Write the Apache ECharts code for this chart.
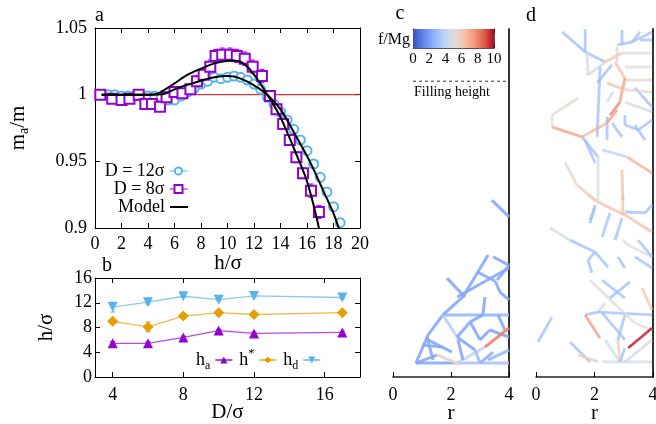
<!DOCTYPE html>
<html>
<head>
<meta charset="utf-8">
<script src="https://cdn.jsdelivr.net/npm/echarts@6/dist/echarts.min.js"></script>
<style>
  html, body { margin: 0; padding: 0; background: #fff; }
  #chart { width: 656px; height: 424px; }
</style>
</head>
<body>
<div id="chart"></div>
<script>
var FONT = '"Liberation Serif", "Times New Roman", serif';
var purple = '#9400d3', sky = '#56b4e9', orange = '#e69f00';

// ---- panel a : m_a/m vs h/sigma
var hD12 = [0.5, 1, 1.5, 2, 2.5, 3, 3.5, 4, 4.5, 5, 5.5, 6, 6.5, 7, 7.5, 8, 8.5, 9, 9.5,
            10, 10.5, 11, 11.5, 12, 12.5, 13, 13.5, 14, 14.5, 15, 15.5, 16, 16.5, 17, 17.5, 18, 18.5];
var mD12 = [1.000, 1.000, 1.000, 0.999, 0.999, 0.999, 0.999, 0.999, 0.999, 0.998, 0.996, 0.996, 0.999,
            1.002, 1.005, 1.008, 1.010, 1.013, 1.012, 1.013, 1.014, 1.013, 1.011, 1.008, 1.004, 0.998,
            0.993, 0.987, 0.981, 0.974, 0.966, 0.958, 0.948, 0.938, 0.927, 0.916, 0.904];
var eD12 = [0.001, 0.001, 0.001, 0.001, 0.001, 0.001, 0.001, 0.001, 0.001, 0.001, 0.001, 0.001, 0.001,
            0.001, 0.001, 0.001, 0.001, 0.0012, 0.0012, 0.0012, 0.0012, 0.0012, 0.0012, 0.0012, 0.0012, 0.0012,
            0.0013, 0.0013, 0.0013, 0.0013, 0.0014, 0.0014, 0.0014, 0.0015, 0.0015, 0.0015, 0.0015];

var hD8 = [0.4, 1.3, 2.0, 2.6, 3.3, 3.8, 4.3, 4.9, 5.4, 6.0, 6.6, 7.2, 7.7, 8.2, 8.7, 9.1, 9.6, 10.2,
           10.7, 11.3, 11.9, 12.6, 13.2, 13.7, 14.2, 14.7, 15.2, 15.7, 16.3, 16.9];
var mD8 = [1.000, 0.997, 0.996, 0.997, 1.000, 0.993, 0.993, 0.991, 0.998, 1.002, 1.001, 1.004, 1.010,
           1.015, 1.021, 1.029, 1.030, 1.030, 1.029, 1.027, 1.021, 1.014, 0.999, 0.989, 0.978, 0.966,
           0.953, 0.941, 0.928, 0.912];
var eD8 = [0.001, 0.002, 0.002, 0.002, 0.002, 0.003, 0.003, 0.003, 0.003, 0.003, 0.003, 0.003, 0.004,
           0.004, 0.005, 0.005, 0.005, 0.005, 0.005, 0.005, 0.005, 0.005, 0.004, 0.004, 0.004, 0.004,
           0.004, 0.004, 0.005, 0.005];

var modelH8 = [0.5, 2, 4, 4.7, 5.3, 6, 7, 8, 9, 10, 10.5, 11, 11.5, 12, 12.5, 13, 13.5, 14, 14.5, 15,
               15.5, 16, 16.5, 16.9];
var modelM8 = [1.0, 1.0, 1.0, 1.0007, 1.004, 1.0085, 1.015, 1.0195, 1.0235, 1.0255, 1.0257, 1.0245,
               1.021, 1.015, 1.008, 1.0, 0.992, 0.983, 0.972, 0.96, 0.948, 0.935, 0.917, 0.9];
var modelH12 = [0.5, 4, 5.2, 6, 7, 8, 9, 10, 10.5, 11, 11.5, 12, 12.5, 13, 13.5, 14, 14.5, 15, 15.5,
                16, 16.5, 17, 17.5, 18, 18.4];
var modelM12 = [1.0, 1.0, 1.0005, 1.004, 1.0075, 1.0105, 1.013, 1.014, 1.0137, 1.012, 1.0098, 1.007,
                1.0038, 1.0, 0.995, 0.989, 0.981, 0.972, 0.963, 0.954, 0.944, 0.933, 0.922, 0.911, 0.9];
var refLevel = 1;
var hSpan = [0, 20];

// ---- panel b : characteristic heights vs D/sigma
var dSigma = [4, 6, 8, 10, 12, 17];
var hA = [5.45, 5.45, 6.4, 7.5, 7.05, 7.2];
var hAErr = [0.3, 0.2, 0.2, 0.2, 0.2, 0.2];
var hStar = [9.0, 8.1, 9.85, 10.4, 10.1, 10.4];
var hStarErr = [0.2, 0.8, 0.2, 0.2, 0.2, 0.2];
var hDrop = [11.3, 12.1, 13.05, 12.5, 13.1, 12.85];
var hDropErr = [0.8, 0.3, 0.2, 0.2, 0.2, 0.2];

// ---- panels c, d : force chains [r1, z1, r2, z2, f/Mg]
var forceC = [
  [3.41, 6.10, 4.0, 5.52, 2.3], [0.79, 0.48, 2.14, 0.48, 2.3], [2.14, 0.48, 4.0, 0.48, 3.3],
  [0.79, 0.48, 1.52, 0.76, 2.3], [1.52, 0.76, 2.21, 0.48, 5.6], [2.21, 0.48, 3.17, 1.03, 4.4],
  [0.79, 0.48, 1.21, 1.45, 2.3], [1.21, 1.45, 1.72, 2.14, 2.3],
  [1.72, 2.14, 4.0, 2.14, 2.8], [1.72, 2.14, 2.21, 1.38, 3.8], [1.72, 2.14, 2.41, 2.76, 2.3],
  [2.41, 2.76, 3.28, 4.21, 2.3], [1.86, 3.41, 2.48, 2.76, 2.3], [2.21, 2.76, 4.0, 3.76, 2.3],
  [3.45, 4.14, 4.0, 3.86, 2.3], [4.0, 3.86, 3.59, 3.34, 2.3], [2.9, 3.62, 3.52, 3.31, 2.3],
  [3.52, 3.31, 3.69, 2.93, 2.3], [3.69, 2.93, 4.0, 2.66, 2.3], [2.21, 1.38, 2.66, 1.90, 2.3],
  [2.66, 1.90, 3.10, 2.14, 2.3], [2.66, 1.90, 3.0, 1.28, 2.3], [3.0, 1.28, 3.34, 1.62, 2.3],
  [3.34, 1.62, 4.0, 1.38, 2.3], [2.21, 1.38, 2.83, 0.93, 2.3], [2.83, 0.93, 3.0, 0.48, 3.0],
  [1.17, 1.38, 1.38, 0.59, 2.3], [1.21, 1.28, 2.03, 0.86, 2.3], [2.24, 1.28, 2.41, 0.59, 2.3],
  [3.28, 0.59, 4.0, 0.93, 2.8], [3.0, 0.48, 3.45, 0.86, 2.6], [3.62, 2.14, 3.86, 1.62, 2.3],
  [1.0, 1.1, 1.72, 1.03, 2.3], [3.10, 2.14, 3.17, 2.76, 2.3], [3.17, 1.03, 4.0, 1.69, 8.0]
];
var forceD = [
  [0.89, 11.9, 1.68, 11.21, 3], [1.68, 12.0, 1.68, 11.21, 3], [1.68, 11.21, 2.36, 10.86, 3],
  [2.36, 10.86, 1.78, 10.41, 4.6], [1.74, 11.21, 1.78, 10.41, 4.5], [2.77, 11.38, 2.77, 10.86, 4.6],
  [2.77, 11.45, 3.28, 11.55, 3], [3.28, 11.55, 3.56, 11.9, 3], [2.94, 11.97, 2.94, 11.45, 3],
  [3.28, 11.55, 3.97, 11.9, 3], [3.56, 11.62, 3.97, 11.62, 3], [2.94, 11.17, 3.97, 11.17, 5.2],
  [3.04, 10.69, 3.97, 10.69, 5], [3.04, 10.24, 3.97, 10.24, 5.5], [2.19, 10.69, 2.09, 8.28, 3],
  [2.60, 10.76, 2.09, 10.14, 3], [2.43, 9.48, 2.63, 9.83, 4.5], [3.38, 9.97, 3.97, 9.31, 3],
  [3.04, 9.48, 3.97, 9.14, 4.6], [1.44, 9.62, 0.55, 9.03, 5.5], [0.55, 9.03, 0.55, 8.62, 5],
  [1.57, 8.28, 2.12, 7.59, 3], [1.68, 8.17, 2.02, 7.38, 3], [2.26, 7.83, 3.11, 7.59, 3.8],
  [2.12, 7.59, 2.12, 6.10, 4.6], [0.99, 7.41, 1.40, 6.62, 5.5], [1.40, 6.62, 2.02, 6.10, 6],
  [2.94, 7.14, 2.97, 6.10, 6.5], [2.43, 8.97, 2.43, 8.17, 3], [2.60, 8.76, 2.94, 8.28, 3],
  [3.04, 9.03, 3.04, 8.69, 3], [3.04, 8.69, 3.49, 8.52, 3], [3.49, 8.52, 3.97, 8.86, 3],
  [3.38, 8.69, 3.73, 8.17, 3], [2.36, 10.86, 2.94, 11.17, 6.3], [2.70, 10.86, 3.04, 10.31, 6.5],
  [3.04, 10.31, 2.87, 9.48, 7.5], [2.87, 9.48, 2.53, 9.03, 8], [2.43, 10.14, 3.04, 9.9, 6.5],
  [3.04, 9.9, 3.97, 9.83, 5.5], [0.55, 8.62, 1.57, 8.28, 7.5], [1.57, 8.28, 2.43, 8.76, 6.8],
  [2.43, 8.76, 2.77, 9.21, 7.5], [3.11, 7.59, 3.97, 7.03, 7],
  [2.02, 5.93, 1.85, 5.31, 3], [2.53, 5.66, 2.26, 4.83, 3], [2.94, 5.48, 2.70, 4.72, 3],
  [3.04, 5.69, 3.73, 5.66, 3], [3.73, 5.66, 3.97, 5.93, 3], [1.85, 5.41, 2.02, 5.86, 3],
  [0.48, 5.14, 1.16, 4.72, 4.6], [1.16, 4.72, 2.02, 4.31, 3], [2.02, 4.31, 2.46, 3.79, 3],
  [2.02, 4.31, 1.78, 4.03, 3], [1.78, 4.03, 1.91, 3.59, 3], [2.97, 4.72, 3.15, 4.55, 4.8],
  [3.15, 4.55, 3.97, 4.14, 5], [3.49, 4.72, 3.97, 4.14, 3], [2.80, 4.14, 3.04, 3.76, 3],
  [3.38, 4.14, 3.97, 3.76, 3], [1.78, 6.28, 2.12, 6.03, 6.3], [2.12, 6.03, 3.04, 5.59, 6.5],
  [3.04, 5.59, 3.97, 5.0, 6.5], [2.97, 6.28, 2.97, 5.59, 6.5],
  [0.55, 2.07, 0.07, 1.21, 3], [1.16, 1.21, 1.85, 0.52, 3], [1.44, 0.76, 2.12, 0.52, 6],
  [1.68, 2.14, 2.12, 2.24, 3], [2.12, 2.24, 2.36, 2.55, 4.5], [2.12, 2.24, 3.97, 2.14, 3],
  [2.26, 2.21, 3.04, 1.28, 3], [3.04, 2.14, 2.80, 1.28, 3], [2.80, 1.28, 2.87, 0.52, 6],
  [2.26, 0.52, 3.97, 0.52, 4.5], [2.36, 1.28, 2.87, 0.52, 4.5], [3.04, 1.0, 2.87, 0.52, 3],
  [3.04, 0.52, 3.97, 1.28, 4.5], [1.85, 3.34, 2.80, 2.41, 4.8], [2.80, 2.41, 3.38, 1.86, 5.2],
  [3.38, 1.86, 3.97, 1.62, 5], [2.26, 3.34, 3.04, 2.72, 3], [2.53, 2.72, 3.21, 3.28, 3],
  [1.68, 2.14, 2.19, 1.34, 7.5], [3.62, 3.07, 3.97, 2.31, 6.3], [3.15, 1.0, 3.97, 1.69, 10]
];
var fillingHeight = 10.2;
var fillingSpan = [0.69, 3.93];

// ---- colour bar
var fRange = [0, 10];
var coolwarm = ['#3b4cc0', '#6282ea', '#8db0fe', '#b8d0f9', '#dddddd', '#f5c4ad', '#f49a7b', '#de604d', '#b40426'];

function zip(a, b, c) {
  return a.map(function (v, i) { return c ? [v, b[i], c[i]] : [v, b[i]]; });
}

function ax(o) {
  var base = {
    type: 'value',
    nameMoveOverlap: false,
    axisLine: { show: true, onZero: false, lineStyle: { color: '#000', width: 1 } },
    axisTick: { show: true, inside: true, length: 5, lineStyle: { color: '#000' } },
    axisLabel: { show: true, color: '#000', fontFamily: FONT, fontSize: 18 },
    splitLine: { show: false },
    nameTextStyle: { color: '#000', fontFamily: FONT, fontSize: 21 }
  };
  for (var k in o) {
    if (o[k] && typeof o[k] === 'object' && !Array.isArray(o[k]) && base[k]) {
      base[k] = Object.assign({}, base[k], o[k]);
    } else {
      base[k] = o[k];
    }
  }
  return base;
}

function errorBar(cap) {
  return function (params, api) {
    var x = api.value(0), y = api.value(1), e = api.value(2);
    var hi = api.coord([x, y + e]), lo = api.coord([x, y - e]);
    var st = { stroke: api.visual('color'), lineWidth: 1 };
    return {
      type: 'group',
      children: [
        { type: 'line', shape: { x1: hi[0], y1: hi[1], x2: lo[0], y2: lo[1] }, style: st },
        { type: 'line', shape: { x1: hi[0] - cap, y1: hi[1], x2: hi[0] + cap, y2: hi[1] }, style: st },
        { type: 'line', shape: { x1: lo[0] - cap, y1: lo[1], x2: lo[0] + cap, y2: lo[1] }, style: st }
      ]
    };
  };
}

function segment(width, alpha) {
  return function (params, api) {
    var p1 = api.coord([api.value(0), api.value(1)]);
    var p2 = api.coord([api.value(2), api.value(3)]);
    return {
      type: 'line',
      shape: { x1: p1[0], y1: p1[1], x2: p2[0], y2: p2[1] },
      style: { stroke: api.visual('color'), lineWidth: width, opacity: alpha }
    };
  };
}

var subRich = {
  t: { fontFamily: FONT, fontSize: 18, lineHeight: 24, color: '#000' },
  s: { fontFamily: FONT, fontSize: 12, lineHeight: 12, verticalAlign: 'bottom', color: '#000' },
  p: { fontFamily: FONT, fontSize: 12, lineHeight: 12, verticalAlign: 'top', color: '#000' }
};
var legendNames = { ha: '{t|h}{s|a}', hstar: '{t|h}{p|*}', hd: '{t|h}{s|d}' };
var legendText = { fontFamily: FONT, fontSize: 18, color: '#000' };

var chart = echarts.init(document.getElementById('chart'));
var option = {
  animation: false,
  backgroundColor: '#fff',
  textStyle: { fontFamily: FONT },
  grid: [
    { left: 95, top: 28, width: 265, height: 200, outerBoundsMode: 'none' },
    { left: 95, top: 278, width: 265, height: 99, outerBoundsMode: 'none' },
    { left: 393, top: 29, width: 116, height: 348, outerBoundsMode: 'none' },
    { left: 536, top: 29, width: 117, height: 348, outerBoundsMode: 'none' },
    { left: 413, top: 29, width: 81, height: 19, outerBoundsMode: 'none' }
  ],
  xAxis: [
    ax({ gridIndex: 0, min: 0, max: 20, interval: 2, axisLabel: { margin: 7 } }),
    ax({ gridIndex: 0, position: 'top', min: 0, max: 20, interval: 2, axisLabel: { show: false } }),
    ax({ gridIndex: 1, min: 3, max: 18, name: 'D/σ', nameLocation: 'middle', nameGap: 25,
         axisTick: { customValues: [4, 8, 12, 16] }, axisLabel: { customValues: [4, 8, 12, 16], margin: 9 } }),
    ax({ gridIndex: 1, position: 'top', min: 3, max: 18,
         axisTick: { customValues: [4, 8, 12, 16] }, axisLabel: { show: false } }),
    ax({ gridIndex: 2, min: 0, max: 4, interval: 2, name: 'r', nameLocation: 'middle', nameGap: 26,
         axisLine: { lineStyle: { color: '#222', width: 1.5 } }, axisLabel: { margin: 9 } }),
    ax({ gridIndex: 3, min: 0, max: 4, interval: 2, name: 'r', nameLocation: 'middle', nameGap: 26,
         axisLine: { lineStyle: { color: '#222', width: 1.5 } }, axisLabel: { margin: 9 } }),
    ax({ gridIndex: 4, min: fRange[0], max: fRange[1], interval: 2,
         axisLine: { lineStyle: { color: '#555' } }, axisTick: { length: 4, lineStyle: { color: '#222' } },
         axisLabel: { fontSize: 15, margin: 4, interval: 0 } }),
    ax({ gridIndex: 4, position: 'top', min: fRange[0], max: fRange[1], interval: 2,
         axisLine: { lineStyle: { color: '#555' } }, axisTick: { length: 4, lineStyle: { color: '#222' } },
         axisLabel: { show: false } })
  ],
  yAxis: [
    ax({ gridIndex: 0, min: 0.9, max: 1.05, interval: 0.05, name: '{t|m}{s|a}{t|/m}', nameLocation: 'middle',
         nameGap: 64, nameTextStyle: { rich: { t: { fontFamily: FONT, fontSize: 21, lineHeight: 26 },
           s: { fontFamily: FONT, fontSize: 14, lineHeight: 14, verticalAlign: 'bottom' } } },
         axisLabel: { margin: 8 } }),
    ax({ gridIndex: 0, position: 'right', min: 0.9, max: 1.05, interval: 0.05, axisLabel: { show: false } }),
    ax({ gridIndex: 1, min: 0, max: 16, interval: 4, name: 'h/σ', nameLocation: 'middle', nameGap: 38,
         axisLabel: { margin: 3 } }),
    ax({ gridIndex: 1, position: 'right', min: 0, max: 16, interval: 4, axisLabel: { show: false } }),
    ax({ gridIndex: 2, position: 'right', min: 0, max: 12,
         axisLine: { lineStyle: { color: '#333', width: 2 } }, axisTick: { show: false }, axisLabel: { show: false } }),
    ax({ gridIndex: 3, position: 'right', min: 0, max: 12,
         axisLine: { lineStyle: { color: '#333', width: 2 } }, axisTick: { show: false }, axisLabel: { show: false } }),
    ax({ gridIndex: 4, min: 0, max: 1, axisLine: { lineStyle: { color: '#555' } },
         axisTick: { show: false }, axisLabel: { show: false } }),
    ax({ gridIndex: 4, position: 'right', min: 0, max: 1, axisLine: { lineStyle: { color: '#555' } },
         axisTick: { show: false }, axisLabel: { show: false } })
  ],
  visualMap: {
    show: false, type: 'continuous', dimension: 4, seriesIndex: [13, 15],
    min: fRange[0], max: fRange[1], inRange: { color: coolwarm }
  },
  legend: [
    { data: ['D = 12σ'], right: 468, top: 162, padding: 0, align: 'right', itemWidth: 18, itemHeight: 9,
      selectedMode: false, textStyle: legendText, lineStyle: { width: 1, opacity: 1 } },
    { data: ['D = 8σ'], right: 468, top: 180, padding: 0, align: 'right', itemWidth: 18, itemHeight: 10,
      selectedMode: false, textStyle: legendText, lineStyle: { width: 1, opacity: 1 } },
    { data: [{ name: 'Model', icon: 'rect' }], right: 468, top: 198, padding: 0, align: 'right',
      itemWidth: 18, itemHeight: 2, selectedMode: false, textStyle: legendText },
    { data: ['ha', 'hstar', 'hd'], left: 196, top: 348, padding: 0, align: 'right', itemWidth: 17,
      itemHeight: 9, itemGap: 6, selectedMode: false,
      formatter: function (n) { return legendNames[n]; },
      textStyle: { rich: subRich } }
  ],
  series: [
    { type: 'line', xAxisIndex: 0, yAxisIndex: 0, silent: true, symbol: 'none',
      lineStyle: { color: '#ff0000', width: 1 }, data: [[hSpan[0], refLevel], [hSpan[1], refLevel]] },
    { type: 'custom', xAxisIndex: 0, yAxisIndex: 0, renderItem: errorBar(2), itemStyle: { color: sky },
      encode: { x: 0, y: 1 }, data: zip(hD12, mD12, eD12) },
    { type: 'line', name: 'D = 12σ', xAxisIndex: 0, yAxisIndex: 0, symbol: 'emptyCircle', symbolSize: 9,
      showSymbol: true, itemStyle: { color: sky, borderWidth: 1 }, lineStyle: { width: 0, opacity: 0 },
      data: zip(hD12, mD12) },
    { type: 'custom', xAxisIndex: 0, yAxisIndex: 0, renderItem: errorBar(2.5), itemStyle: { color: purple },
      encode: { x: 0, y: 1 }, data: zip(hD8, mD8, eD8) },
    { type: 'line', name: 'D = 8σ', xAxisIndex: 0, yAxisIndex: 0, symbol: 'emptyRect', symbolSize: 10,
      showSymbol: true, itemStyle: { color: purple, borderWidth: 1 }, lineStyle: { width: 0, opacity: 0 },
      data: zip(hD8, mD8) },
    { type: 'line', name: 'Model', xAxisIndex: 0, yAxisIndex: 0, symbol: 'none', smooth: 0.3, z: 5,
      itemStyle: { color: '#000' }, lineStyle: { color: '#000', width: 2 }, data: zip(modelH8, modelM8) },
    { type: 'line', name: 'Model', xAxisIndex: 0, yAxisIndex: 0, symbol: 'none', smooth: 0.3, z: 5,
      itemStyle: { color: '#000' }, lineStyle: { color: '#000', width: 2 }, data: zip(modelH12, modelM12) },

    { type: 'line', name: 'ha', xAxisIndex: 2, yAxisIndex: 2, symbol: 'triangle', symbolSize: 10,
      itemStyle: { color: purple }, lineStyle: { color: purple, width: 1.3, opacity: 0.7 }, data: zip(dSigma, hA) },
    { type: 'custom', xAxisIndex: 2, yAxisIndex: 2, renderItem: errorBar(2.5), itemStyle: { color: purple },
      encode: { x: 0, y: 1 }, data: zip(dSigma, hA, hAErr) },
    { type: 'line', name: 'hstar', xAxisIndex: 2, yAxisIndex: 2, symbol: 'diamond', symbolSize: 11,
      itemStyle: { color: orange }, lineStyle: { color: orange, width: 1.3, opacity: 0.7 }, data: zip(dSigma, hStar) },
    { type: 'custom', xAxisIndex: 2, yAxisIndex: 2, renderItem: errorBar(2.5), itemStyle: { color: orange },
      encode: { x: 0, y: 1 }, data: zip(dSigma, hStar, hStarErr) },
    { type: 'line', name: 'hd', xAxisIndex: 2, yAxisIndex: 2, symbol: 'triangle', symbolRotate: 180, symbolSize: 10,
      itemStyle: { color: sky }, lineStyle: { color: sky, width: 1.3, opacity: 0.7 }, data: zip(dSigma, hDrop) },
    { type: 'custom', xAxisIndex: 2, yAxisIndex: 2, renderItem: errorBar(2.5), itemStyle: { color: sky },
      encode: { x: 0, y: 1 }, data: zip(dSigma, hDrop, hDropErr) },

    { type: 'custom', xAxisIndex: 4, yAxisIndex: 4, renderItem: segment(3, 0.9),
      encode: { x: [0, 2], y: [1, 3] }, data: forceC },
    { type: 'line', xAxisIndex: 4, yAxisIndex: 4, symbol: 'none', silent: true,
      lineStyle: { color: '#333', width: 1, type: [3, 3] },
      data: [[fillingSpan[0], fillingHeight], [fillingSpan[1], fillingHeight]] },
    { type: 'custom', xAxisIndex: 5, yAxisIndex: 5, renderItem: segment(2.8, 0.75),
      encode: { x: [0, 2], y: [1, 3] }, data: forceD },
    { type: 'custom', xAxisIndex: 6, yAxisIndex: 6, silent: true,
      renderItem: function (params, api) {
        var a = api.coord([api.value(0), 1]), b = api.coord([api.value(1), 0]);
        var stops = coolwarm.map(function (c, i) { return { offset: i / (coolwarm.length - 1), color: c }; });
        return { type: 'rect', shape: { x: a[0], y: a[1], width: b[0] - a[0], height: b[1] - a[1] },
                 style: { fill: new echarts.graphic.LinearGradient(0, 0, 1, 0, stops) } };
      },
      encode: { x: [0, 1] }, data: [fRange] }
  ],
  graphic: [
    { type: 'text', style: { x: 95, y: 16, text: 'a', font: '20px ' + FONT, fill: '#000', textVerticalAlign: 'middle' } },
    { type: 'text', style: { x: 228, y: 263, text: 'h/σ', font: '21px ' + FONT, fill: '#000', textAlign: 'center', textVerticalAlign: 'middle' } },
    { type: 'text', style: { x: 102, y: 266, text: 'b', font: '20px ' + FONT, fill: '#000', textVerticalAlign: 'middle' } },
    { type: 'text', style: { x: 400, y: 14, text: 'c', font: '20px ' + FONT, fill: '#000', textAlign: 'center', textVerticalAlign: 'middle' } },
    { type: 'text', style: { x: 531, y: 16, text: 'd', font: '20px ' + FONT, fill: '#000', textAlign: 'center', textVerticalAlign: 'middle' } },
    { type: 'text', style: { x: 410, y: 40, text: 'f/Mg', font: '16px ' + FONT, fill: '#000', textAlign: 'right', textVerticalAlign: 'middle' } },
    { type: 'text', style: { x: 452, y: 92, text: 'Filling height', font: '14px ' + FONT, fill: '#000', textAlign: 'center', textVerticalAlign: 'middle' } }
  ]
};
chart.setOption(option);
</script>
</body>
</html>
